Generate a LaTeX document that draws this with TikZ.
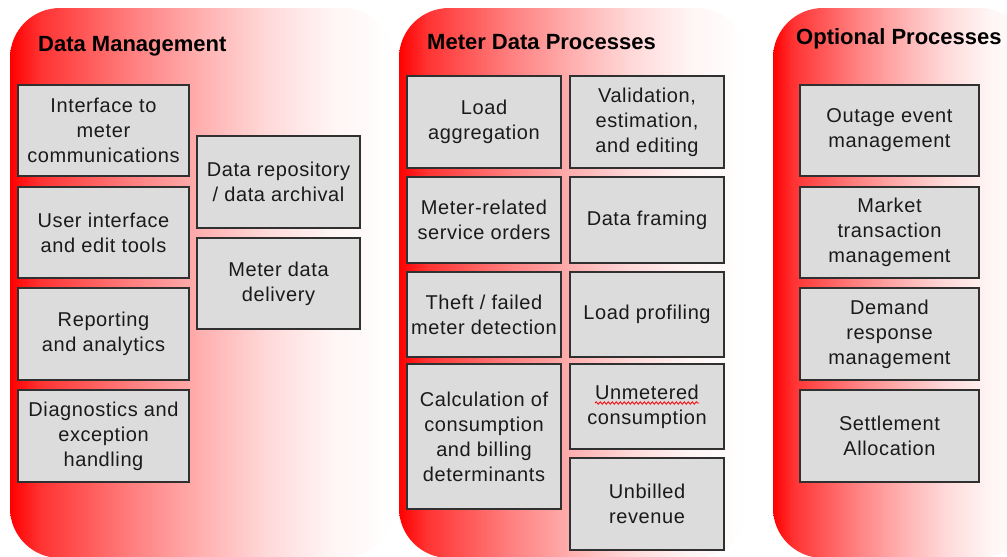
\documentclass[tikz,border=0pt]{standalone}
\usepackage{fontspec}
\setmainfont{Liberation Sans}
\newfontfamily\boxfont[LetterSpace=3]{Liberation Sans}
\usetikzlibrary{decorations.pathmorphing}

\definecolor{boxfill}{HTML}{DCDCDC}
\definecolor{boxline}{HTML}{303030}
\definecolor{ink}{HTML}{1A1A1A}

% red-to-white fade used behind each group of processes
\pgfdeclarehorizontalshading{panelshade}{100bp}{%
  color(0bp)=(red); color(25bp)=(red); color(29bp)=(red!80);
  color(41bp)=(red!50); color(50bp)=(red!31); color(58.5bp)=(red!15);
  color(67bp)=(red!4); color(75bp)=(white); color(100bp)=(white)}

\tikzset{
  panel/.style={shading=panelshade, rounded corners=50pt},
  grouptitle/.style={anchor=base west, inner sep=0pt, text=black,
    font=\fontsize{22}{26}\selectfont\bfseries},
  procbox/.style={draw=boxline, line width=1.3pt, fill=boxfill,
    inner sep=1pt, align=center, text=ink,
    font=\boxfont\fontsize{20}{25}\selectfont},
  spellmark/.style={draw=red, line width=0.8pt,
    decorate, decoration={snake, segment length=4pt, amplitude=1.2pt}}
}

% box by name, corners (x1,y1) and (x2,y2), and label
\newcommand\procnode[6]{%
  \node[procbox, minimum width={(#4-#2)*1pt}, minimum height={(#5-#3)*1pt}]
    (#1) at ({(#2+#4)/2},{(#3+#5)/2}) {#6};}

\begin{document}
\begin{tikzpicture}[x=1pt, y=-1pt]
  \clip (0,0) rectangle (1007,557);
  \fill[white] (0,0) rectangle (1007,557);

  % group backgrounds
  \shade[panel] (10,8) rectangle (393,558);
  \shade[panel] (399,8) rectangle (747,558);
  \shade[panel] (773,8) rectangle (1030,558);

  % group titles
  \node[grouptitle] (dmtitle)  at (38,51)  {Data Management};
  \node[grouptitle] (mdptitle) at (427,49) {Meter Data Processes};
  \node[grouptitle] (optitle)  at (796,44) {Optional Processes};

  % Data Management
  \procnode{iface}{18}{85}{189}{176}{Interface to\\meter\\communications}
  \procnode{ui}{18}{187}{189}{278}{User interface\\and edit tools}
  \procnode{report}{18}{288}{189}{380}{Reporting\\and analytics}
  \procnode{diag}{18}{390}{189}{482}{Diagnostics and\\exception\\handling}
  \procnode{repo}{197}{136}{360}{228}{Data repository\\/ data archival}
  \procnode{deliv}{197}{238}{360}{329}{Meter data\\delivery}

  % Meter Data Processes
  \procnode{aggr}{407}{76}{561}{168}{Load\\aggregation}
  \procnode{vee}{570}{76}{724}{168}{Validation,\\estimation,\\and editing}
  \procnode{orders}{407}{177}{561}{263}{Meter-related\\service orders}
  \procnode{framing}{570}{177}{724}{263}{Data framing}
  \procnode{theft}{407}{272}{561}{357}{Theft / failed\\meter detection}
  \procnode{profiling}{570}{272}{724}{357}{Load profiling}
  \procnode{calc}{407}{364}{561}{509}{Calculation of\\consumption\\and billing\\determinants}
  \procnode{unmet}{570}{364}{724}{449}{Unmetered\\consumption}
  \procnode{unbilled}{570}{458}{724}{550}{Unbilled\\revenue}

  % Optional Processes
  \procnode{outage}{800}{85}{979}{176}{Outage event\\management}
  \procnode{market}{800}{187}{979}{278}{Market\\transaction\\management}
  \procnode{demand}{800}{288}{979}{380}{Demand\\response\\management}
  \procnode{settle}{800}{390}{979}{482}{Settlement\\Allocation}

  % spell-check squiggle under "Unmetered"
  \coordinate (sqa) at (595,403);
  \coordinate (sqb) at (699,403);
  \draw[spellmark] (sqa) -- (sqb);
\end{tikzpicture}
\end{document}
